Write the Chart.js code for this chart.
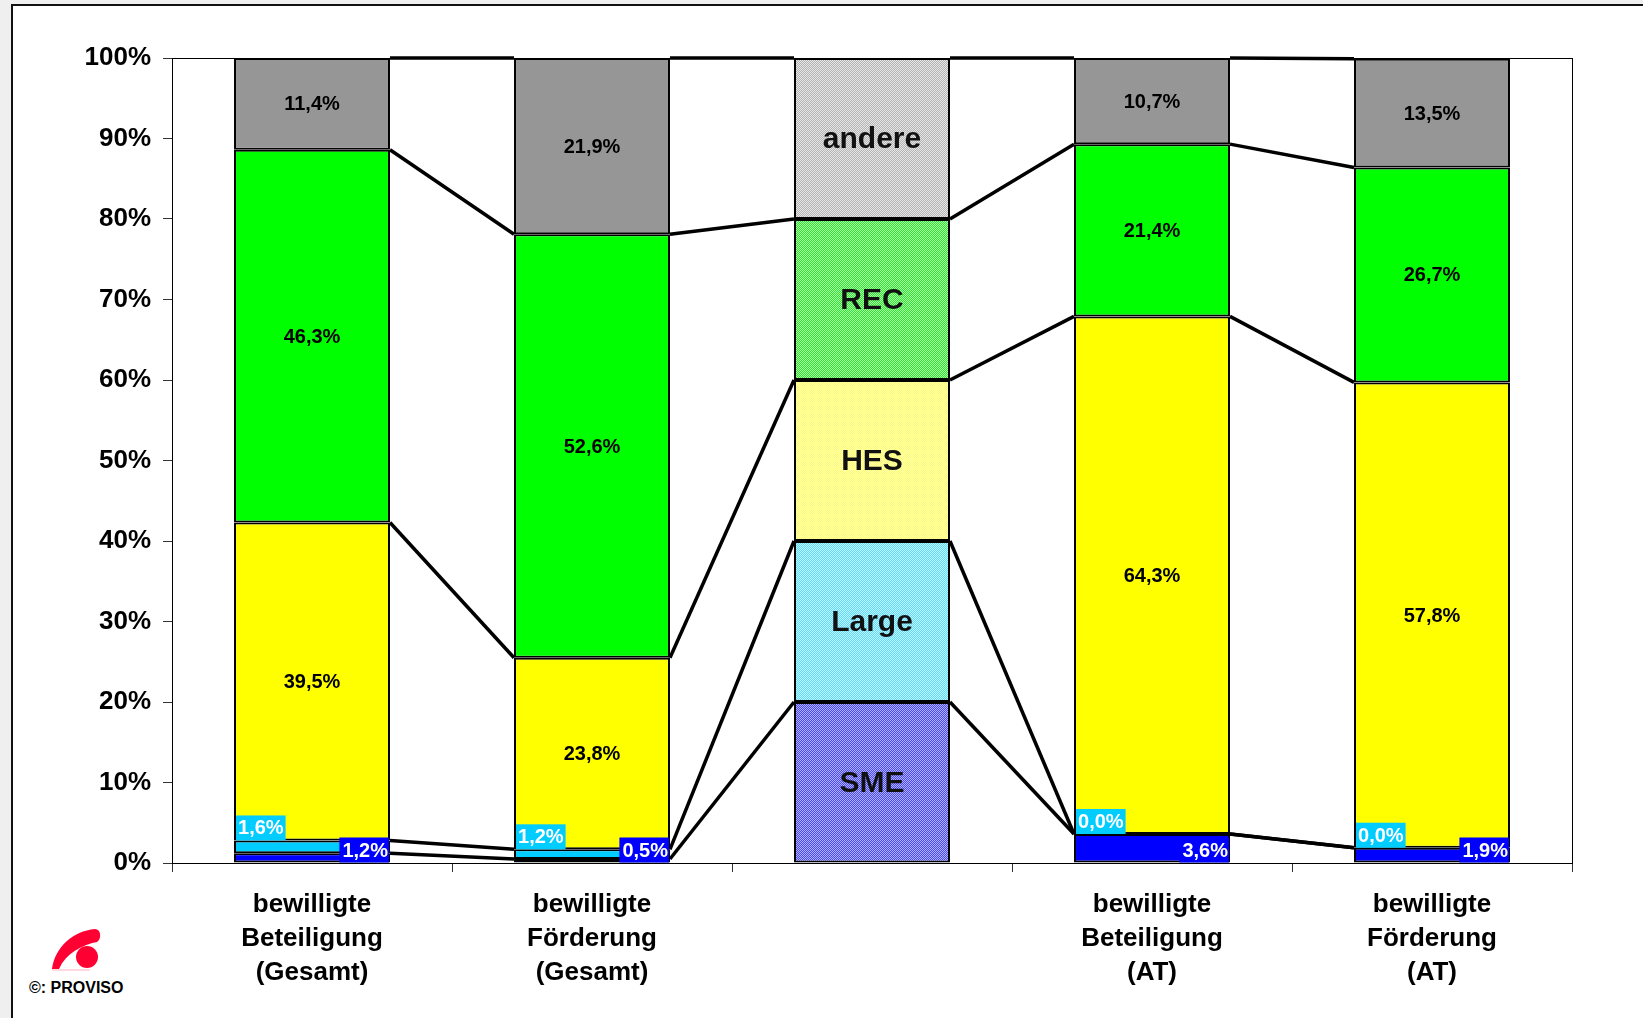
<!DOCTYPE html>
<html>
<head>
<meta charset="utf-8">
<script src="https://cdn.jsdelivr.net/npm/chart.js@4.4.0/dist/chart.umd.min.js"></script>
<style>
  html, body { margin: 0; padding: 0; background: #efefef; overflow: hidden; }
  #panel { position: absolute; left: 11px; top: 4px; width: 1700px; height: 1100px;
           background: #fff; border-left: 2px solid #111; border-top: 2px solid #111; }
  #chart { position: absolute; left: 0; top: 0; }
  #logo { position: absolute; left: 0; top: 0; }
  #copy { position: absolute; left: 29px; top: 979px; font: bold 16px "Liberation Sans", Arial, sans-serif; color: #000; }
</style>
</head>
<body>
<div id="panel"></div>
<svg id="logo" width="200" height="1018">
  <path d="M52,969 C55,947 73,931 95,929 C101,929 102,939 97,942 C82,945 66,953 59,969 Z" fill="#ff0033"/>
  <circle cx="87" cy="957" r="11" fill="#ff0033"/>
  <line x1="52" y1="970" x2="90" y2="970" stroke="#ffb0c0" stroke-width="1"/>
</svg>
<div id="copy">©: PROVISO</div>
<canvas id="chart" width="1643" height="1018"></canvas>
<script>
// categories and values (percent)
var categories = [
    ['bewilligte', 'Beteiligung', '(Gesamt)'],
    ['bewilligte', 'Förderung', '(Gesamt)'],
    '',
    ['bewilligte', 'Beteiligung', '(AT)'],
    ['bewilligte', 'Förderung', '(AT)']
];
var seriesNames = ['SME', 'Large', 'HES', 'REC', 'andere'];
var sme = [1.2, 0.5, 20, 3.6, 1.9];
var large = [1.6, 1.2, 20, 0.0, 0.0];
var hes = [39.5, 23.8, 20, 64.3, 57.8];
var rec = [46.3, 52.6, 20, 21.4, 26.7];
var andere = [11.4, 21.9, 20, 10.7, 13.5];
var legendIndex = 2;

var solidColors = ['#0000ff', '#00ccff', '#ffff00', '#00ff00', '#969696'];
var ditherColors = [['#4646ff', '#b4b4ff'], ['#55dcff', '#c8f4ff'], ['#ffff55', '#ffffcc'],
                    ['#22ee22', '#b8ffb8'], ['#b4b4b4', '#e6e6e6']];
var FONT = '"Liberation Sans", Arial, sans-serif';

function dither(c) {
    var cv = document.createElement('canvas');
    cv.width = 2; cv.height = 2;
    var x = cv.getContext('2d');
    x.fillStyle = c[0]; x.fillRect(0, 0, 2, 2);
    x.fillStyle = c[1]; x.fillRect(0, 0, 1, 1); x.fillRect(1, 1, 1, 1);
    return x.createPattern(cv, 'repeat');
}

function fmt(v) {
    return v.toFixed(1).replace('.', ',') + '%';
}

var allData = [sme, large, hes, rec, andere];
var datasets = allData.map(function (d, i) {
    var pat = dither(ditherColors[i]);
    return {
        label: seriesNames[i],
        data: d,
        backgroundColor: d.map(function (v, j) { return j === legendIndex ? pat : solidColors[i]; }),
        borderColor: '#000',
        borderWidth: 2,
        borderSkipped: false,
        barPercentage: 0.557,
        categoryPercentage: 1
    };
});

var frame = {
    id: 'frame',
    beforeDatasetsDraw: function (chart) {
        var a = chart.chartArea, c = chart.ctx;
        c.save();
        c.strokeStyle = '#000';
        c.lineWidth = 1;
        c.strokeRect(a.left + 0.5, a.top + 0.5, a.right - a.left, a.bottom - a.top);
        c.restore();
    }
};

var seriesLines = {
    id: 'seriesLines',
    afterDatasetsDraw: function (chart) {
        var c = chart.ctx, y = chart.scales.y;
        c.save();
        c.strokeStyle = '#000';
        c.lineWidth = 3.5;
        for (var i = 0; i < categories.length - 1; i++) {
            var cumA = 0, cumB = 0;
            for (var d = 0; d < allData.length; d++) {
                cumA += allData[d][i];
                cumB += allData[d][i + 1];
                var a = chart.getDatasetMeta(d).data[i];
                var b = chart.getDatasetMeta(d).data[i + 1];
                c.beginPath();
                c.moveTo(a.x + a.width / 2, y.getPixelForValue(Math.min(cumA, 100)));
                c.lineTo(b.x - b.width / 2, y.getPixelForValue(Math.min(cumB, 100)));
                c.stroke();
            }
        }
        c.restore();
    }
};

var valueLabels = {
    id: 'valueLabels',
    afterDraw: function (chart) {
        var c = chart.ctx;
        c.save();
        for (var d = 0; d < allData.length; d++) {
            var meta = chart.getDatasetMeta(d);
            meta.data.forEach(function (bar, i) {
                var v = allData[d][i];
                var left = bar.x - bar.width / 2, right = bar.x + bar.width / 2;
                var top = Math.min(bar.y, bar.base), bottom = Math.max(bar.y, bar.base);
                if (i === legendIndex) {
                    c.font = 'bold 30px ' + FONT;
                    c.fillStyle = '#111';
                    c.textAlign = 'center';
                    c.textBaseline = 'middle';
                    c.fillText(seriesNames[d], bar.x, (top + bottom) / 2 + 1);
                    return;
                }
                var txt = fmt(v);
                c.font = 'bold 20px ' + FONT;
                if (d === 1) {
                    var w = c.measureText(txt).width + 4;
                    c.fillStyle = solidColors[1];
                    c.fillRect(left + 2, top - 25, w, 25);
                    c.fillStyle = '#fff';
                    c.textAlign = 'left';
                    c.textBaseline = 'middle';
                    c.fillText(txt, left + 4, top - 11.5);
                } else if (d === 0) {
                    var w2 = c.measureText(txt).width + 4;
                    c.fillStyle = solidColors[0];
                    c.fillRect(right - w2 - 1, bottom - 25, w2, 25);
                    c.fillStyle = '#fff';
                    c.textAlign = 'right';
                    c.textBaseline = 'middle';
                    c.fillText(txt, right - 2, bottom - 11.5);
                } else {
                    c.fillStyle = '#000';
                    c.textAlign = 'center';
                    c.textBaseline = 'middle';
                    c.fillText(txt, bar.x, (top + bottom) / 2 + 1);
                }
            });
        }
        c.restore();
    }
};

new Chart(document.getElementById('chart'), {
    type: 'bar',
    data: { labels: categories, datasets: datasets },
    plugins: [frame, seriesLines, valueLabels],
    options: {
        responsive: false,
        animation: false,
        layout: { padding: { left: 0, top: 58, right: 71, bottom: 0 } },
        plugins: { legend: { display: false }, tooltip: { enabled: false } },
        scales: {
            x: {
                stacked: true,
                afterFit: function (s) { s.height = 155; },
                border: { color: '#000', width: 1 },
                grid: { offset: true, drawOnChartArea: false, tickLength: 9, color: '#333' },
                ticks: {
                    color: '#000',
                    padding: 16,
                    maxRotation: 0,
                    autoSkip: false,
                    font: { family: FONT, size: 26, weight: 'bold', lineHeight: 1.3 }
                }
            },
            y: {
                stacked: true,
                min: 0,
                max: 100,
                afterFit: function (s) { s.width = 172; },
                border: { color: '#000', width: 1 },
                grid: { drawOnChartArea: false, tickLength: 9, color: '#333' },
                ticks: {
                    stepSize: 10,
                    color: '#000',
                    padding: 12,
                    callback: function (v) { return v + '%'; },
                    font: { family: FONT, size: 26, weight: 'bold' }
                }
            }
        }
    }
});
</script>
</body>
</html>
